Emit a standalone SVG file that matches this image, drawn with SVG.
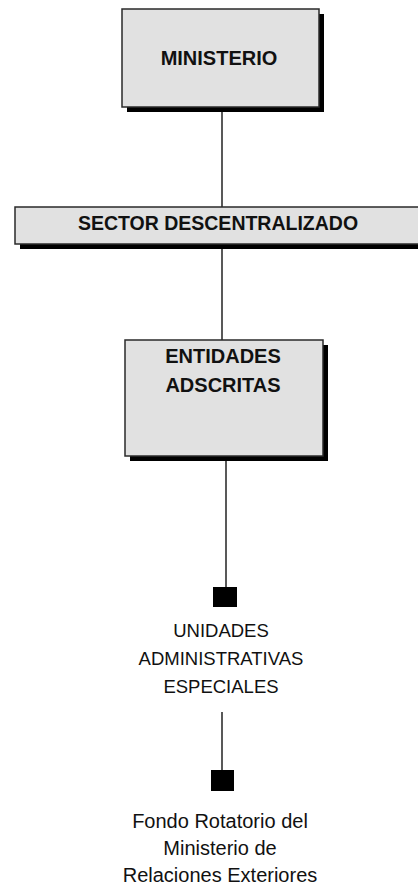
<svg xmlns="http://www.w3.org/2000/svg" width="418" height="890" viewBox="0 0 418 890">
<style>
.box{fill:#e1e1e1;stroke:#2a2a2a;stroke-width:1.5}
.shadow{fill:#000}
.bold{font-family:"Liberation Sans",Arial,sans-serif;font-weight:bold;fill:#111;text-anchor:middle}
.plain{font-family:"Liberation Sans",Arial,sans-serif;fill:#111;text-anchor:middle}
.conn{stroke:#222;stroke-width:1.5;fill:none}
.sq{fill:#000}
</style>
<rect width="418" height="890" fill="#fff"/>
<g id="connectors">
<line class="conn" x1="222" y1="107" x2="222" y2="207"/>
<line class="conn" x1="222" y1="244" x2="222" y2="340"/>
<line class="conn" x1="226" y1="456" x2="226" y2="587"/>
<line class="conn" x1="222" y1="712" x2="222" y2="770"/>
<rect class="sq" x="213" y="587" width="24" height="20"/>
<rect class="sq" x="211" y="770" width="23" height="21"/>
</g>
<g id="ministerio">
<rect class="shadow" x="127" y="14" width="197" height="98"/>
<rect class="box" x="122" y="9" width="197" height="98"/>
<text class="bold" x="219" y="65" font-size="20">MINISTERIO</text>
</g>
<g id="sector">
<rect class="shadow" x="20" y="212" width="410" height="37"/>
<rect class="box" x="15" y="207" width="410" height="37"/>
<text class="bold" x="218" y="230" font-size="19.5">SECTOR DESCENTRALIZADO</text>
</g>
<g id="entidades">
<rect class="shadow" x="130" y="345" width="198" height="116"/>
<rect class="box" x="125" y="340" width="198" height="116"/>
<text class="bold" x="223" y="363" font-size="20">ENTIDADES</text>
<text class="bold" x="223" y="392" font-size="20">ADSCRITAS</text>
</g>
<g id="unidades">
<text class="plain" x="221" y="637" font-size="18.5">UNIDADES</text>
<text class="plain" x="221" y="665" font-size="18.5">ADMINISTRATIVAS</text>
<text class="plain" x="221" y="693" font-size="18.5">ESPECIALES</text>
</g>
<g id="fondo">
<text class="plain" x="220" y="828" font-size="20">Fondo Rotatorio del</text>
<text class="plain" x="220" y="855" font-size="20">Ministerio de</text>
<text class="plain" x="220" y="882" font-size="20">Relaciones Exteriores</text>
</g>
</svg>
